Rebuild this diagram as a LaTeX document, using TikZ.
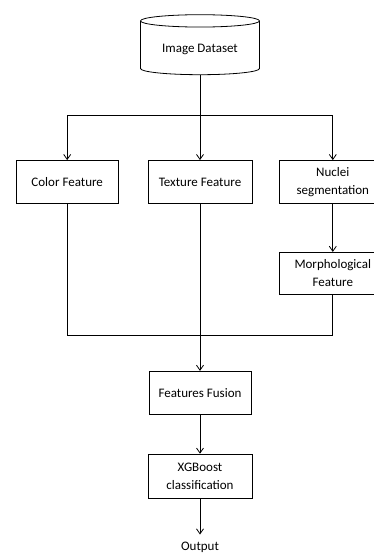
\documentclass[tikz,border=0pt]{standalone}
\usepackage{fontspec}
\setmainfont{Carlito}
\usetikzlibrary{positioning,shapes.geometric,arrows.meta}

\begin{document}
\begin{tikzpicture}[
    >={Straight Barb[length=5pt,width=7pt]},
    line width=0.8pt,
    every node/.style={font=\fontsize{13pt}{18pt}\selectfont},
    box/.style={draw,minimum width=102pt,minimum height=43pt,align=center,inner sep=2pt},
    db/.style={draw,cylinder,shape border rotate=90,aspect=0.15,minimum width=119pt,minimum height=60pt}
]
\useasboundingbox (0,0) rectangle (374pt,-554pt);

% Feature extraction
\node[box,minimum width=104pt] (texture) at (200pt,-182pt) {Texture Feature};
\node[box,left=29pt of texture]  (color)  {Color Feature};
\node[box,right=27pt of texture,minimum width=106pt,text width=92pt] (nuclei) {Nuclei\\segmentation};
\node[box,below=48pt of nuclei,minimum width=106pt,text width=92pt,minimum height=42pt] (morph) {Morphological\\Feature};

% Dataset
\node[db,above=85pt of texture] (data) {Image Dataset};

% Arrows from dataset to features
\coordinate[below=40pt of data] (split);
\draw (data) -- (split);
\draw[->] (split) -| (color);
\draw[->] (split) -- (texture);
\draw[->] (split) -| (nuclei);
\draw[->] (nuclei) -- (morph);

% Fusion and classification
\node[box,below=167pt of texture] (fusion) {Features Fusion};
\node[box,below=39pt of fusion,minimum width=104pt,minimum height=44pt] (xgb) {XGBoost\\classification};
\node[below=42pt of xgb,inner sep=1pt] (out) {Output};

\coordinate[below=41pt of morph] (join);
\draw (morph) -- (join) -| (color);
\draw[->] (texture) -- (fusion);
\draw[->] (fusion) -- (xgb);
\draw[->,shorten >=6pt] (xgb) -- (out);

\end{tikzpicture}
\end{document}
